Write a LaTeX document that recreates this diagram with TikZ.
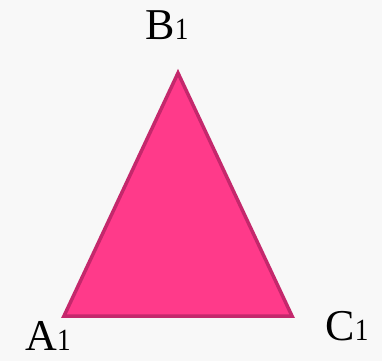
\documentclass[tikz,border=0pt]{standalone}
\usepackage{tikz}
\usepackage{graphicx}
\usepackage{fontspec}
\setmainfont{Liberation Serif}
\definecolor{triFill}{HTML}{FF3A8A}
\definecolor{triEdge}{HTML}{C4286C}
\definecolor{paperBg}{HTML}{F8F8F8}
\newcommand{\vertLabel}[1]{\fontsize{44}{44}\selectfont #1\scalebox{0.62}[0.7]{1}}

\begin{document}
\begin{tikzpicture}[x=1pt,y=-1pt]
\fill[paperBg] (0,0) rectangle (382,361);
\useasboundingbox (0,0) rectangle (382,361);
\coordinate (A) at (64,316);
\coordinate (B) at (178,73);
\coordinate (C) at (292,316);
\filldraw[fill=triFill, draw=triEdge, line width=3.5pt, line join=miter] (A) -- (B) -- (C) -- cycle;
\node[anchor=base, inner sep=0pt] (lblB) at (167,40) {\vertLabel{B}};
\node[anchor=base, inner sep=0pt] (lblA) at (48,350) {\vertLabel{A}};
\node[anchor=base, inner sep=0pt] (lblC) at (347,340) {\vertLabel{C}};
\end{tikzpicture}
\end{document}
